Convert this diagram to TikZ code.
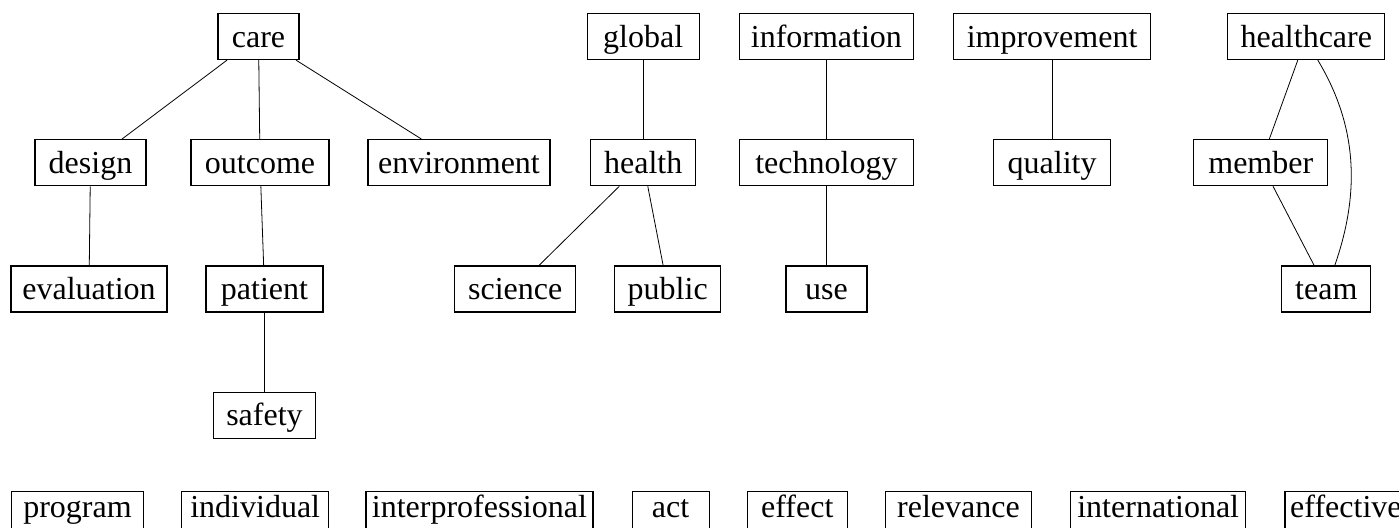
\documentclass[tikz,border=0pt]{standalone}
\usepackage{fontspec}
\setmainfont{Liberation Serif}
\usetikzlibrary{positioning}

\begin{document}
\begin{tikzpicture}[term/.style={draw, rectangle, line width=0.6pt, minimum height=23pt, inner xsep=1pt, inner ysep=0pt, text height=12pt, text depth=1.5pt, font=\fontsize{16pt}{19pt}\selectfont},
                    loose/.style={term, text depth=8.5pt},
                    node distance=39.5pt and 19.5pt] %
    \clip (0,0) rectangle (699.5pt,-263.5pt);
    % top row
    \node[term, minimum width=40.5pt] (care) at (129.25pt,-18.25pt) {care} ; %
    \node[term, minimum width=56pt, right=of care, xshift=124pt] (global) {global} ; %
    \node[term, minimum width=87pt, right=of global] (information) {information} ; %
    \node[term, minimum width=98.5pt, right=of information] (improvement) {improvement} ; %
    \node[term, minimum width=78.5pt, right=of improvement, xshift=18.5pt] (healthcare) {healthcare} ; %
    % second row
    \node[term, minimum width=55.5pt, below=of care, xshift=-84pt] (design) {design};
    \node[term, minimum width=69pt, below=of care, xshift=0.75pt] (outcome) {outcome};
    \node[term, minimum width=91pt, below=of care, xshift=100.25pt] (environment) {environment};
    \node[term, minimum width=52.5pt, below=of global] (health) {health};
    \node[term, minimum width=87pt, below=of information] (technology) {technology};
    \node[term, minimum width=58.5pt, below=of improvement] (quality) {quality};
    \node[term, minimum width=67pt, below=of healthcare, xshift=-22.75pt] (member) {member};
    % third row
    \node[term, minimum width=78pt, below=of design, xshift=-0.75pt] (evaluation) {evaluation};
    \node[term, minimum width=58.5pt, below=of outcome, xshift=2.25pt] (patient) {patient};
    \node[term, minimum width=60.5pt, below=of health, xshift=-64pt] (science) {science};
    \node[term, minimum width=53pt, below=of health, xshift=12.25pt] (public) {public};
    \node[term, minimum width=40.5pt, below=of technology] (use) {use};
    \node[term, minimum width=44.5pt, below=of member, xshift=32.75pt] (team) {team};
    \node[term, minimum width=51pt, below=of patient] (safety) {safety};
    % unlinked terms
    \node[loose, minimum width=66pt, below=of safety, xshift=-93.5pt, yshift=13.5pt] (program) {program};
    \node[loose, minimum width=73.5pt, right=18.5pt of program] (individual) {individual};
    \node[loose, minimum width=113.5pt, right=18pt of individual] (interprofessional) {interprofessional};
    \node[loose, minimum width=38.5pt, right=19pt of interprofessional] (act) {act};
    \node[loose, minimum width=50pt, right=18.5pt of act] (effect) {effect};
    \node[loose, minimum width=73pt, right=18.5pt of effect] (relevance) {relevance};
    \node[loose, minimum width=87.5pt, right=19pt of relevance] (international) {international};
    \node[loose, minimum width=61pt, right=19pt of international] (effective) {effective};
    \draw (care)--(design) ; %
    \draw (care)--(outcome) ;
    \draw (care)--(environment) ;
    \draw (design)--(evaluation) ;
    \draw (outcome)--(patient) ;
    \draw (patient)--(safety) ;
    \draw (global)--(health) ;
    \draw (health)--(science) ;
    \draw (health)--(public) ;
    \draw (information)--(technology) ;
    \draw (technology)--(use) ;
    \draw (improvement)--(quality) ;
    \draw (healthcare)--(member) ;
    \draw (member)--(team) ;
    \draw ([xshift=5.75pt]healthcare.south) .. controls +(18pt,-30pt) and +(14pt,40pt) .. ([xshift=4.25pt]team.north) ;
  \end{tikzpicture}
\end{document}
